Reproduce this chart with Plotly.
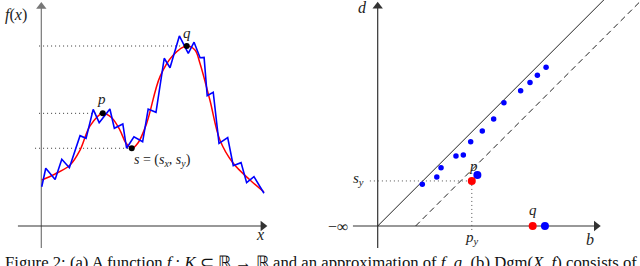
import plotly.graph_objects as go

# ---------------- data (left panel: function f and approximation g) ----------------
g_x = [0.02, 0.20, 0.62, 0.92, 1.26, 1.74, 2.01, 2.33, 2.60, 3.08, 3.28, 3.66, 3.83, 4.16, 4.55,
       4.80, 5.15, 5.52, 5.78, 6.20, 6.60, 6.86, 7.13, 7.31, 7.45, 7.72, 7.98, 8.37, 8.62, 8.97,
       9.22, 9.55, 10.0]
g_y = [2.18, 3.21, 2.59, 3.71, 3.24, 5.02, 4.87, 6.48, 5.74, 6.50, 5.43, 5.67, 4.32, 4.96, 4.68,
       6.50, 6.32, 9.32, 8.79, 10.56, 9.59, 10.21, 9.35, 9.37, 7.24, 7.43, 4.59, 4.91, 3.35, 3.52,
       2.41, 2.74, 1.82]
f_x = [0.02, 0.62, 1.29, 1.74, 2.19, 2.76, 3.17, 3.53, 3.80, 4.06, 4.34, 4.73, 5.33, 5.93, 6.53,
       6.90, 7.12, 7.57, 8.02, 8.61, 9.37, 10.0]
f_y = [2.56, 2.89, 3.39, 4.22, 5.56, 6.26, 6.00, 5.33, 4.61, 4.32, 4.61, 5.70, 8.30, 9.50, 10.0,
       9.78, 9.06, 7.00, 4.78, 3.50, 2.56, 1.89]
crit_names = ["p", "s", "q"]
crit_x = [2.76, 4.06, 6.53]
crit_y = [6.26, 4.32, 10.0]

# ---------------- data (right panel: persistence diagram) ----------------
g_birth = [2.00, 2.65, 2.84, 3.51, 3.84, 4.17, 4.69, 5.20, 5.66, 6.41, 6.83, 7.16, 7.55]
g_death = [1.87, 2.20, 2.61, 3.14, 3.18, 3.78, 4.26, 4.80, 5.53, 6.07, 6.43, 6.76, 7.12]
g_big_birth = [4.47, 7.50]
g_big_death = [2.29, 0.0]
f_birth = [4.22, 6.95]
f_death = [2.02, 0.0]
band = 1.7  # offset of dashed line

serif = "Liberation Serif"
BLACK = "#222222"

fig = go.Figure()

def axis_arrow(xa, ya, x0, y0, x1, y1, hx, hy, symbol, color):
    fig.add_trace(go.Scatter(x=[x0, x1], y=[y0, y1], mode="lines",
                             line=dict(color=color, width=1.2), xaxis=xa, yaxis=ya, cliponaxis=False))
    fig.add_trace(go.Scatter(x=[hx], y=[hy], mode="markers", xaxis=xa, yaxis=ya, cliponaxis=False,
                             marker=dict(symbol=symbol, size=9, color=color, line=dict(width=0))))

# ---- left panel ----
L = dict(xaxis="x", yaxis="y")
axis_arrow("x", "y", 0, -1.22, 0, 12.2, 0, 12.2, "triangle-up", "#777777")
axis_arrow("x", "y", -1.05, 0, 9.95, 0, 9.95, 0, "triangle-right", "#333333")
for nm, cx, cy, x0 in zip(crit_names, crit_x, crit_y, [-0.10, -0.28, -0.10]):
    fig.add_trace(go.Scatter(x=[x0, cx], y=[cy, cy], mode="lines",
                             line=dict(color=BLACK, width=0.9, dash="1px,3px"), **L))
fig.add_trace(go.Scatter(x=f_x, y=f_y, mode="lines", line=dict(color="#ff0000", width=1.5, shape="spline", smoothing=1.0), **L))
fig.add_trace(go.Scatter(x=g_x, y=g_y, mode="lines", line=dict(color="#0000ff", width=1.6), **L))
fig.add_trace(go.Scatter(x=crit_x, y=crit_y, mode="markers", marker=dict(color="black", size=6), **L))

# ---- right panel ----
R = dict(xaxis="x2", yaxis="y2")
axis_arrow("x2", "y2", 0, -0.99, 0, 9.85, 0, 9.85, "triangle-up", "#333333")
axis_arrow("x2", "y2", -1.11, 0, 9.8, 0, 9.8, 0, "triangle-right", "#333333")
fig.add_trace(go.Scatter(x=[0, 10.3], y=[0, 10.3], mode="lines", line=dict(color=BLACK, width=1), **R))
fig.add_trace(go.Scatter(x=[band, 10.3 + band], y=[0, 10.3], mode="lines",
                         line=dict(color=BLACK, width=1, dash="6px,4px"), **R))
fig.add_trace(go.Scatter(x=[-0.35, f_birth[0]], y=[f_death[0], f_death[0]], mode="lines",
                         line=dict(color="#555555", width=1, dash="1px,3px"), **R))
fig.add_trace(go.Scatter(x=[f_birth[0], f_birth[0]], y=[f_death[0], -0.22], mode="lines",
                         line=dict(color="#555555", width=1, dash="1px,3px"), **R))
fig.add_trace(go.Scatter(x=g_birth, y=g_death, mode="markers", marker=dict(color="#0000ff", size=5.5), **R))
fig.add_trace(go.Scatter(x=g_big_birth, y=g_big_death, mode="markers", marker=dict(color="#0000ff", size=8), cliponaxis=False, **R))
fig.add_trace(go.Scatter(x=f_birth, y=f_death, mode="markers", marker=dict(color="#ff0000", size=8), cliponaxis=False, **R))

ann = []
def label(xr, yr, x, y, text, size=16, xanchor="center"):
    ann.append(dict(xref=xr, yref=yr, x=x, y=y, text=text, showarrow=False,
                    xanchor=xanchor, yanchor="middle",
                    font=dict(family=serif, size=size, color=BLACK)))

label("x", "y", -1.15, 11.75, "<i>f</i>(<i>x</i>)")
label("x", "y", 9.8, -0.45, "<i>x</i>")
label("x", "y", crit_x[0] - 0.05, crit_y[0] + 0.8, "<i>p</i>", 15)
label("x", "y", crit_x[2] + 0.02, crit_y[2] + 0.72, "<i>q</i>", 15)
label("x", "y", 5.46, 3.62, "<i>s</i> = (<i>s<sub>x</sub></i>, <i>s<sub>y</sub></i>)", 14)

label("x2", "y2", -0.66, 9.8, "<i>d</i>")
label("x2", "y2", 9.52, -0.6, "<i>b</i>")
label("x2", "y2", -1.8, 0.0, "−∞", 16)
label("x2", "y2", -0.88, 2.12, "<i>s<sub>y</sub></i>", 15)
label("x2", "y2", f_birth[0], -0.55, "<i>p<sub>y</sub></i>", 15)
label("x2", "y2", 4.3, 2.68, "<i>p</i>", 15)
label("x2", "y2", 6.97, 0.72, "<i>q</i>", 15)

# caption (cut off at the bottom of the image, as in the reference)
ann.append(dict(xref="paper", yref="paper", x=0.004, y=-0.006, xanchor="left", yanchor="top",
                yshift=17, showarrow=False,
                text="Figure 2: (a) A function <i>f</i> : <i>K</i> ⊂ ℝ → ℝ and an approximation of <i>f</i>, <i>g</i>. (b) Dgm(<i>X</i>, <i>f</i>) consists of",
                font=dict(family=serif, size=16.7, color="#111111")))

ax_common = dict(visible=False, showgrid=False, zeroline=False, fixedrange=True)
fig.update_layout(
    width=640, height=266,
    margin=dict(l=0, r=0, t=0, b=0),
    paper_bgcolor="white", plot_bgcolor="white",
    showlegend=False,
    xaxis=dict(domain=[0, 280 / 640], range=[-1.855, 10.719], **ax_common),
    yaxis=dict(domain=[0, 1], range=[-2.222, 12.556], **ax_common),
    xaxis2=dict(domain=[320 / 640, 1], range=[-2.587, 11.762], **ax_common),
    yaxis2=dict(domain=[0, 1], range=[-1.794, 10.135], anchor="x2", **ax_common),
    annotations=ann,
)
fig.write_html("out.html", config={"displayModeBar": False},
               post_script="document.body.style.margin='0px';document.body.style.overflow='hidden';")
